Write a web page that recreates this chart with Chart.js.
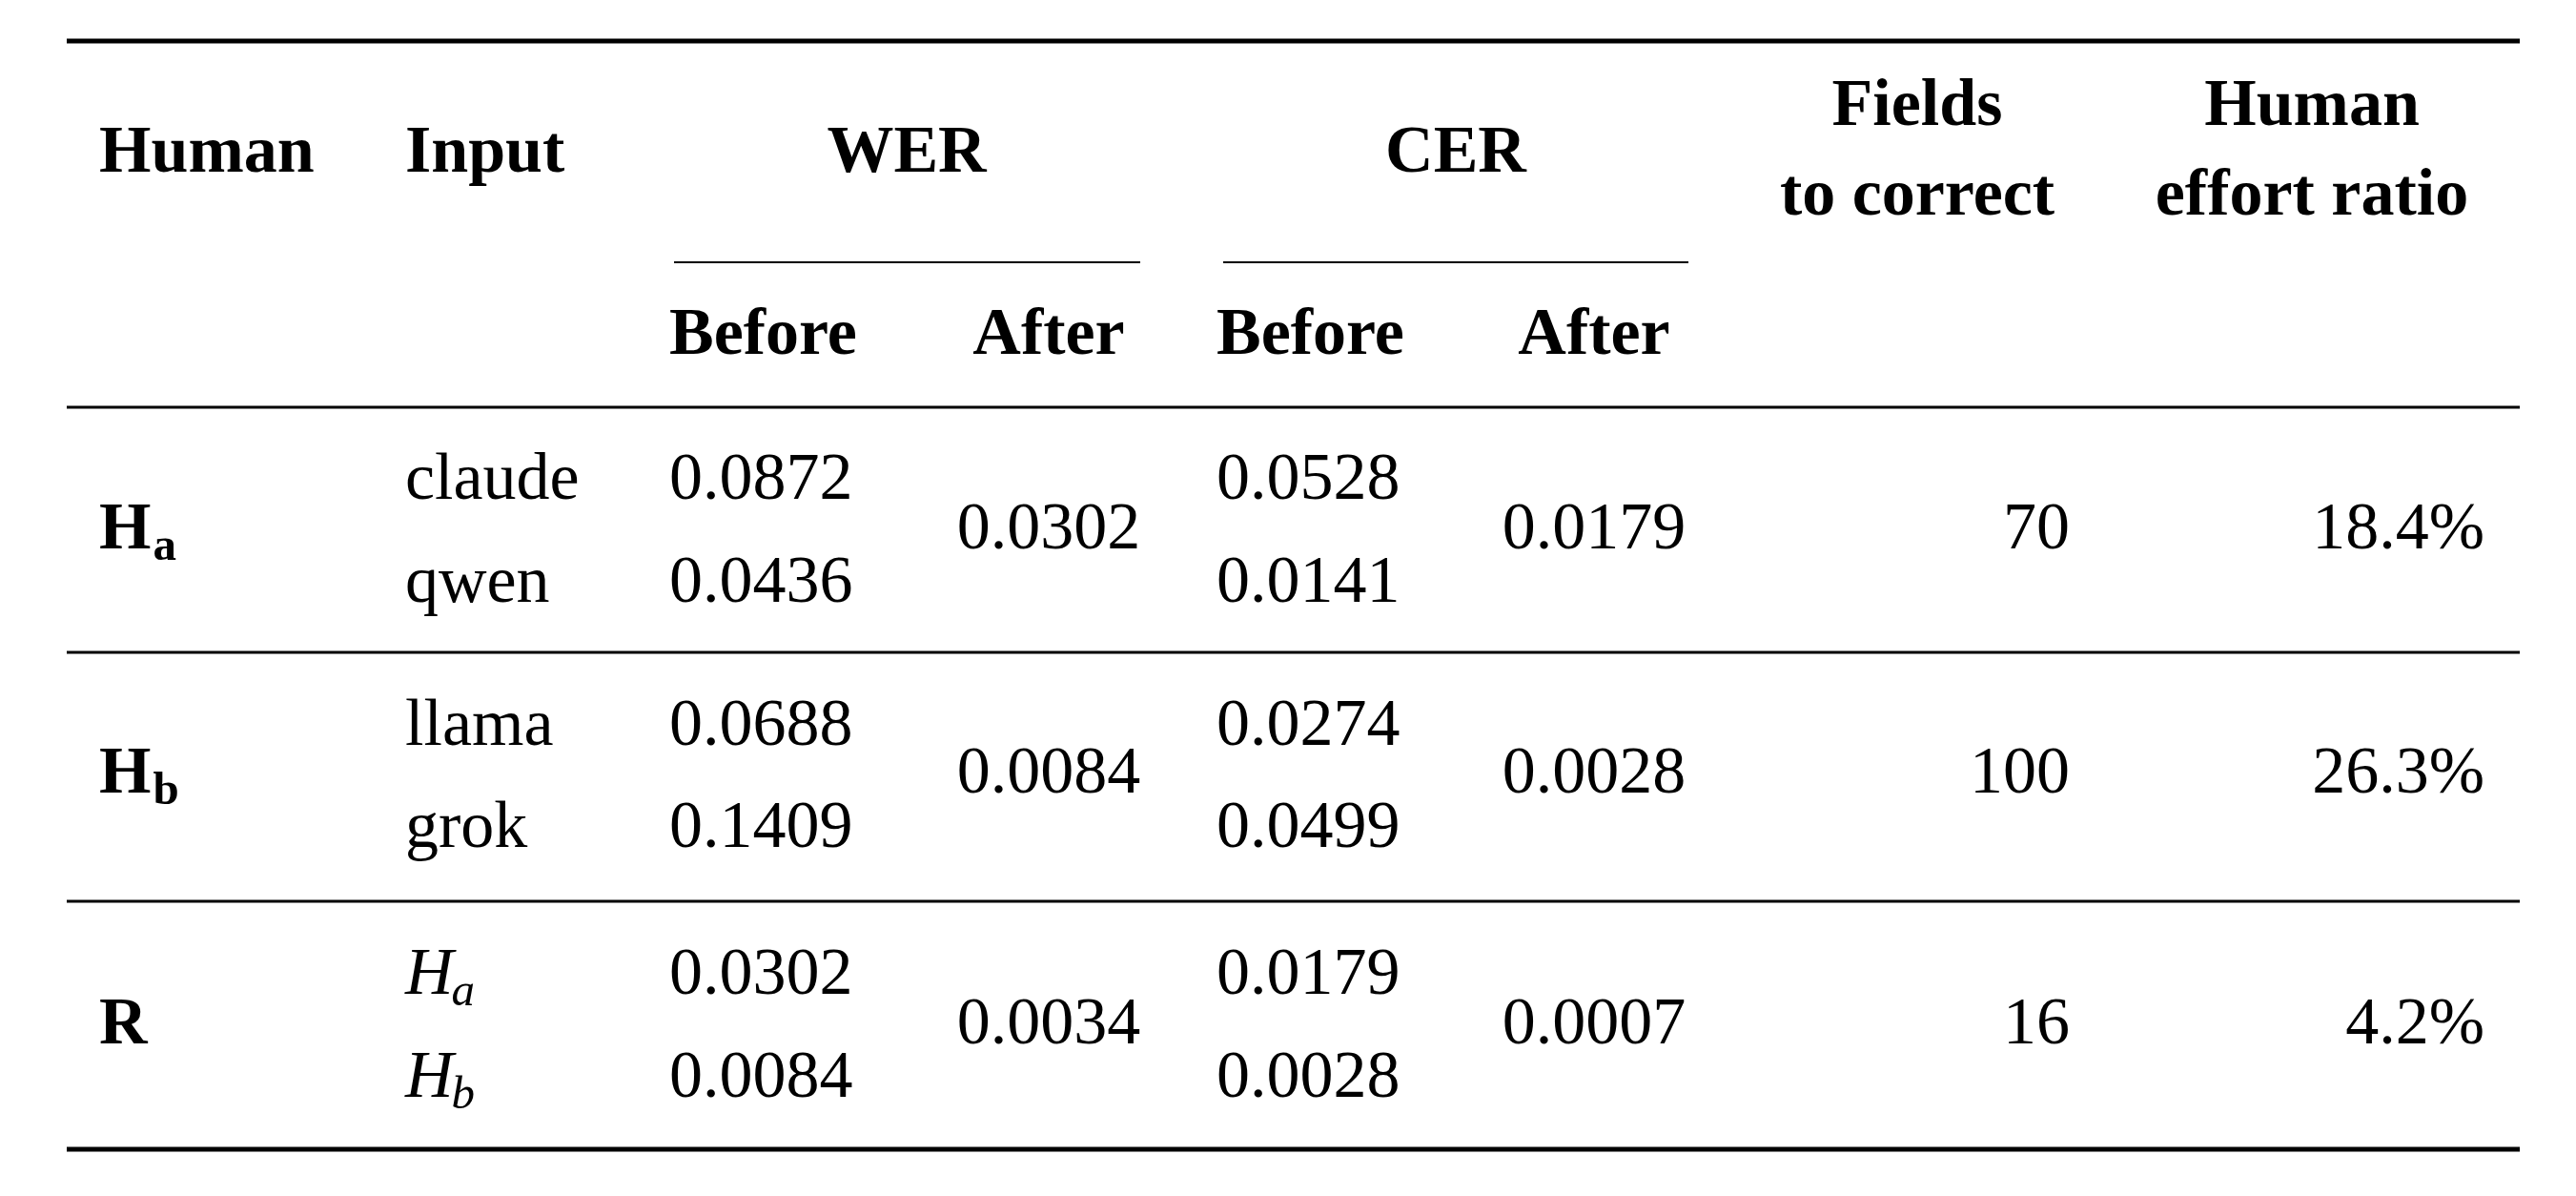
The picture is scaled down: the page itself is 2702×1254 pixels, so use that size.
<!DOCTYPE html>
<html><head><meta charset="utf-8">
<script src="https://cdn.jsdelivr.net/npm/chart.js@4/dist/chart.umd.min.js"></script>
<style>html,body{margin:0;padding:0;background:#fff}#w{width:2702px;height:1254px}</style>
</head><body><div id="w"><canvas id="c"></canvas></div>
<script>
// ---- data ----
const humans = ["H|a", "H|b", "R"];
const inputs = [["claude","qwen"],["llama","grok"],["H|a","H|b"]];
const werBefore = [["0.0872","0.0436"],["0.0688","0.1409"],["0.0302","0.0084"]];
const werAfter = ["0.0302","0.0084","0.0034"];
const cerBefore = [["0.0528","0.0141"],["0.0274","0.0499"],["0.0179","0.0028"]];
const cerAfter = ["0.0179","0.0028","0.0007"];
const fieldsToCorrect = [70, 100, 16];
const effortRatio = ["18.4%","26.3%","4.2%"];
const headerTop = ["Human","Input","WER","CER"];
const headerFields = ["Fields","to correct"];
const headerEffort = ["Human","effort ratio"];
const subHeaders = ["Before","After","Before","After"];

// ---- layout (coordinates in scale units) ----
const L = {
  left:70, right:2643, top:43, headRule:427, rowRules:[684,945], bottom:1205,
  cmid:[[707,1196],[1283,1771]], cmidY:275,
  xHuman:104, xInput:425, xWB:702, xWA:1100, xCB:1276, xCA:1672, xF:2171, xE:2606,
  xWERc:951, xCERc:1527, xFc:2011, xEc:2425,
  yHead1:162, yHeadA:113, yHeadB:207, ySub:353,
  rowMid:[557,813,1076], rowA:[505,763,1024], rowB:[613,870,1132]
};
const FS = 70, FONT = '"Liberation Serif", "DejaVu Serif", serif';

const tablePlugin = {
  id:'table',
  afterDraw(chart){
    const ctx = chart.ctx, X = v=>chart.scales.x.getPixelForValue(v), Y = v=>chart.scales.y.getPixelForValue(v);
    ctx.save(); ctx.fillStyle='#000'; ctx.strokeStyle='#000'; ctx.textBaseline='middle';
    const line=(x1,x2,y,w)=>{ctx.lineWidth=w;ctx.beginPath();ctx.moveTo(X(x1),Y(y));ctx.lineTo(X(x2),Y(y));ctx.stroke();};
    line(L.left,L.right,L.top,5); line(L.left,L.right,L.headRule,3);
    L.rowRules.forEach(y=>line(L.left,L.right,y,3)); line(L.left,L.right,L.bottom,5);
    L.cmid.forEach(c=>line(c[0],c[1],L.cmidY,2));
    const txt=(s,x,y,align,bold,italic)=>{ctx.font=(italic?'italic ':'')+(bold?'bold ':'')+FS+'px '+FONT;ctx.textAlign=align;ctx.fillText(s,X(x),Y(y));};
    const sub=(s,x,y,bold,italic)=>{ // "H|a" style
      const [m,sb]=s.split('|'); ctx.textAlign='left';
      ctx.font=(italic?'italic ':'')+(bold?'bold ':'')+FS+'px '+FONT; ctx.fillText(m,X(x),Y(y));
      if(sb!==undefined){const w=ctx.measureText(m).width;
        ctx.font=(italic?'italic ':'')+(bold?'bold ':'')+Math.round(FS*0.7)+'px '+FONT; ctx.fillText(sb,X(x)+w+(italic?-2:2),Y(y)+FS*0.25);}
    };
    txt(headerTop[0],L.xHuman,L.yHead1,'left',true); txt(headerTop[1],L.xInput,L.yHead1,'left',true);
    txt(headerTop[2],L.xWERc,L.yHead1,'center',true); txt(headerTop[3],L.xCERc,L.yHead1,'center',true);
    txt(headerFields[0],L.xFc,L.yHeadA,'center',true); txt(headerFields[1],L.xFc,L.yHeadB,'center',true);
    txt(headerEffort[0],L.xEc,L.yHeadA,'center',true); txt(headerEffort[1],L.xEc,L.yHeadB,'center',true);
    const subX=[[L.xWB,'left'],[L.xWA,'center'],[L.xCB,'left'],[L.xCA,'center']];
    subHeaders.forEach((s,i)=>txt(s,subX[i][0]+(i%2?0:0),L.ySub,subX[i][1],true));
    humans.forEach((h,r)=>{
      sub(h,L.xHuman,L.rowMid[r],true,false);
      inputs[r].forEach((s,k)=>{const y=k?L.rowB[r]:L.rowA[r]; if(s.includes('|')) sub(s,L.xInput,y,false,true); else txt(s,L.xInput,y,'left');});
      werBefore[r].forEach((s,k)=>txt(s,L.xWB,k?L.rowB[r]:L.rowA[r],'left'));
      cerBefore[r].forEach((s,k)=>txt(s,L.xCB,k?L.rowB[r]:L.rowA[r],'left'));
      txt(werAfter[r],L.xWA,L.rowMid[r],'center'); txt(cerAfter[r],L.xCA,L.rowMid[r],'center');
      txt(String(fieldsToCorrect[r]),L.xF,L.rowMid[r],'right'); txt(effortRatio[r],L.xE,L.rowMid[r],'right');
    });
    ctx.restore();
  }
};
new Chart(document.getElementById('c'),{
  type:'scatter',
  data:{datasets:[{data:[],pointRadius:0}]},
  options:{responsive:true,maintainAspectRatio:false,animation:false,devicePixelRatio:1,
    layout:{padding:0},plugins:{legend:{display:false},tooltip:{enabled:false}},
    scales:{x:{type:'linear',min:0,max:2702,display:false},y:{type:'linear',min:0,max:1254,reverse:true,display:false}}},
  plugins:[tablePlugin]
});
</script></body></html>
